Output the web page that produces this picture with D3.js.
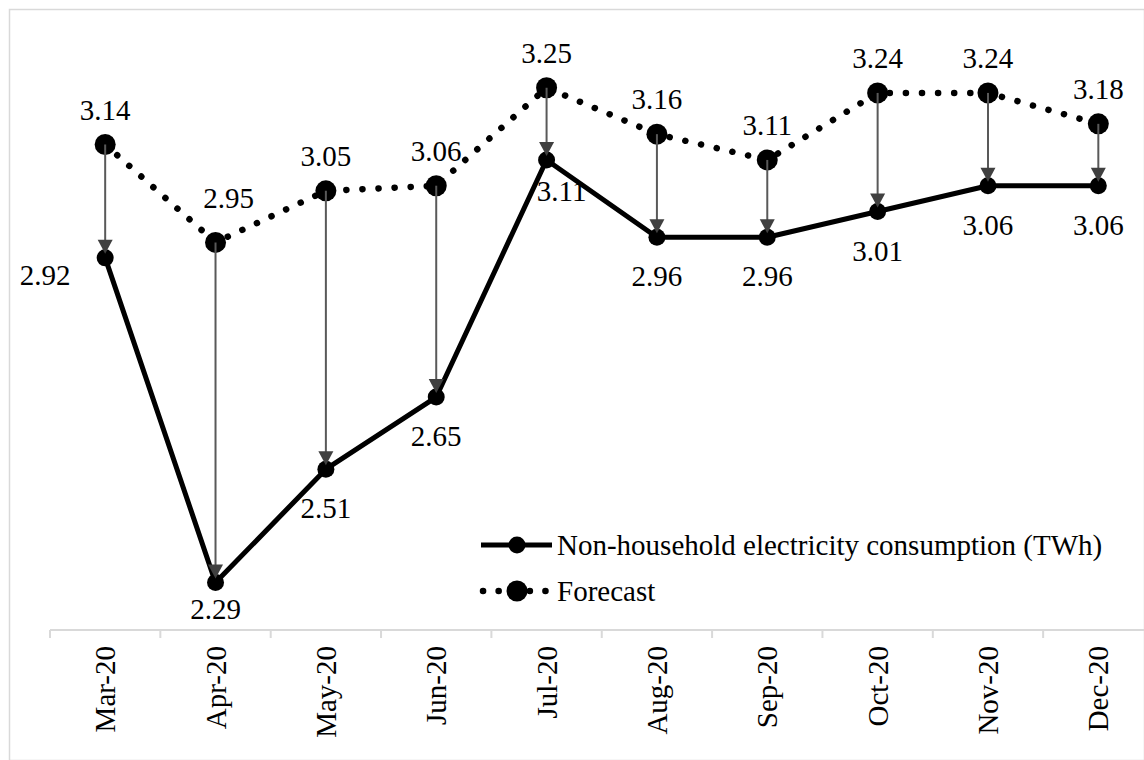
<!DOCTYPE html>
<html>
<head>
<meta charset="utf-8">
<script src="https://cdn.jsdelivr.net/npm/d3@7"></script>
<style>
  html, body { margin: 0; padding: 0; background: #fff; }
  svg text { font-family: "Liberation Serif", "Times New Roman", serif; }
</style>
</head>
<body>
<svg id="chart" width="1144" height="760" font-family="Liberation Serif, serif"></svg>
<script>
// Monthly non-household electricity consumption vs forecast, 2020
const months = ["Mar-20", "Apr-20", "May-20", "Jun-20", "Jul-20", "Aug-20", "Sep-20", "Oct-20", "Nov-20", "Dec-20"];
const actual = [2.92, 2.29, 2.51, 2.65, 3.11, 2.96, 2.96, 3.01, 3.06, 3.06];
const forecast = [3.14, 2.95, 3.05, 3.06, 3.25, 3.16, 3.11, 3.24, 3.24, 3.18];
const seriesNames = ["Non-household electricity consumption (TWh)", "Forecast"];

const svg = d3.select("#chart");
const W = 1144, H = 760;
const SERIF = "Liberation Serif, serif";

// outer frame
svg.append("rect")
  .attr("x", 9.5).attr("y", 9.5)
  .attr("width", W - 9).attr("height", H - 9)
  .attr("fill", "#fff").attr("stroke", "#d9d9d9").attr("stroke-width", 1.5);

const x = d3.scaleBand().domain(months).range([50, 1153.5]).padding(0);
const y = d3.scaleLinear().domain([2.2, 3.3]).range([629, 62]);
const cx = d => x(d) + x.bandwidth() / 2;
const axisY = 630;

// category axis
const axisG = svg.append("g").attr("transform", `translate(0,${axisY})`);
axisG.call(d3.axisBottom(x).tickSize(0).tickPadding(0));
axisG.attr("font-family", SERIF);
axisG.select(".domain").remove();
axisG.append("line")
  .attr("x1", 50).attr("x2", W).attr("y1", 0).attr("y2", 0)
  .attr("stroke", "#d9d9d9").attr("stroke-width", 2);
axisG.selectAll(".edge")
  .data(months)
  .join("line")
  .attr("class", "edge")
  .attr("x1", d => x(d)).attr("x2", d => x(d))
  .attr("y1", 0).attr("y2", 8)
  .attr("stroke", "#d9d9d9").attr("stroke-width", 2);
axisG.selectAll(".tick text")
  .attr("font-family", SERIF)
  .attr("font-size", 29)
  .attr("fill", "#000")
  .attr("text-anchor", "end")
  .attr("dy", "0.35em")
  .attr("transform", "translate(0,16) rotate(-90)")
  .attr("x", 0).attr("y", 0);

// series lines
const pts = (vals) => months.map((m, i) => [cx(m), y(vals[i])]);
const line = d3.line();

svg.append("path")
  .attr("d", line(pts(forecast)))
  .attr("fill", "none").attr("stroke", "#000")
  .attr("stroke-width", 6.5).attr("stroke-linecap", "round")
  .attr("stroke-dasharray", "0.1 16");

svg.append("path")
  .attr("d", line(pts(actual)))
  .attr("fill", "none").attr("stroke", "#000")
  .attr("stroke-width", 5).attr("stroke-linejoin", "round");

// markers
svg.append("g").selectAll("circle")
  .data(months)
  .join("circle")
  .attr("cx", d => cx(d)).attr("cy", (d, i) => y(forecast[i]))
  .attr("r", 10.5).attr("fill", "#000");

svg.append("g").selectAll("circle")
  .data(months)
  .join("circle")
  .attr("cx", d => cx(d)).attr("cy", (d, i) => y(actual[i]))
  .attr("r", 8.5).attr("fill", "#000");

// gap arrows from forecast down to actual
const arrowG = svg.append("g");
months.forEach((m, i) => {
  const px = cx(m), y0 = y(forecast[i]), y1 = y(actual[i]) - 4;
  arrowG.append("line")
    .attr("x1", px).attr("x2", px)
    .attr("y1", y0).attr("y2", y1 - 12)
    .attr("stroke", "#595959").attr("stroke-width", 2);
  arrowG.append("path")
    .attr("d", `M${px - 7.5},${y1 - 14} L${px + 7.5},${y1 - 14} L${px},${y1} Z`)
    .attr("fill", "#404040");
});

// value labels
const labelFont = 29;
const lab = svg.append("g")
  .attr("font-family", SERIF)
  .attr("font-size", labelFont).attr("fill", "#000").attr("text-anchor", "middle");

// forecast labels sit above their markers; Apr is nudged clear of the dotted line
const fShift = { "Apr-20": [13, -45] };
lab.selectAll(".fl")
  .data(months)
  .join("text")
  .attr("class", "fl")
  .attr("x", d => cx(d) + (fShift[d] ? fShift[d][0] : 0))
  .attr("y", (d, i) => y(forecast[i]) + (fShift[d] ? fShift[d][1] : -35))
  .attr("dy", "0.35em")
  .text((d, i) => forecast[i].toFixed(2));

// actual labels sit below their markers, with a few exceptions
const aShift = { "Mar-20": [-60, 17], "Apr-20": [0, 26], "Jul-20": [15, 31] };
lab.selectAll(".al")
  .data(months)
  .join("text")
  .attr("class", "al")
  .attr("x", d => cx(d) + (aShift[d] ? aShift[d][0] : 0))
  .attr("y", (d, i) => y(actual[i]) + (aShift[d] ? aShift[d][1] : 39))
  .attr("dy", "0.35em")
  .text((d, i) => actual[i].toFixed(2));

// legend
const leg = svg.append("g").attr("transform", "translate(481,0)");
const r1 = 545, r2 = 591;
leg.append("line").attr("x1", 0).attr("x2", 71).attr("y1", r1).attr("y2", r1)
  .attr("stroke", "#000").attr("stroke-width", 5);
leg.append("circle").attr("cx", 36).attr("cy", r1).attr("r", 8.5).attr("fill", "#000");
leg.append("line").attr("x1", 2).attr("x2", 70).attr("y1", r2).attr("y2", r2)
  .attr("stroke", "#000").attr("stroke-width", 6.5).attr("stroke-linecap", "round")
  .attr("stroke-dasharray", "0.1 15.5");
leg.append("circle").attr("cx", 36).attr("cy", r2).attr("r", 10.5).attr("fill", "#000");
leg.selectAll("text")
  .data(seriesNames)
  .join("text")
  .attr("x", 76).attr("y", (d, i) => i === 0 ? r1 : r2)
  .attr("dy", "0.33em")
  .attr("font-family", SERIF)
  .attr("font-size", labelFont).attr("fill", "#000")
  .text(d => d);
</script>
</body>
</html>
